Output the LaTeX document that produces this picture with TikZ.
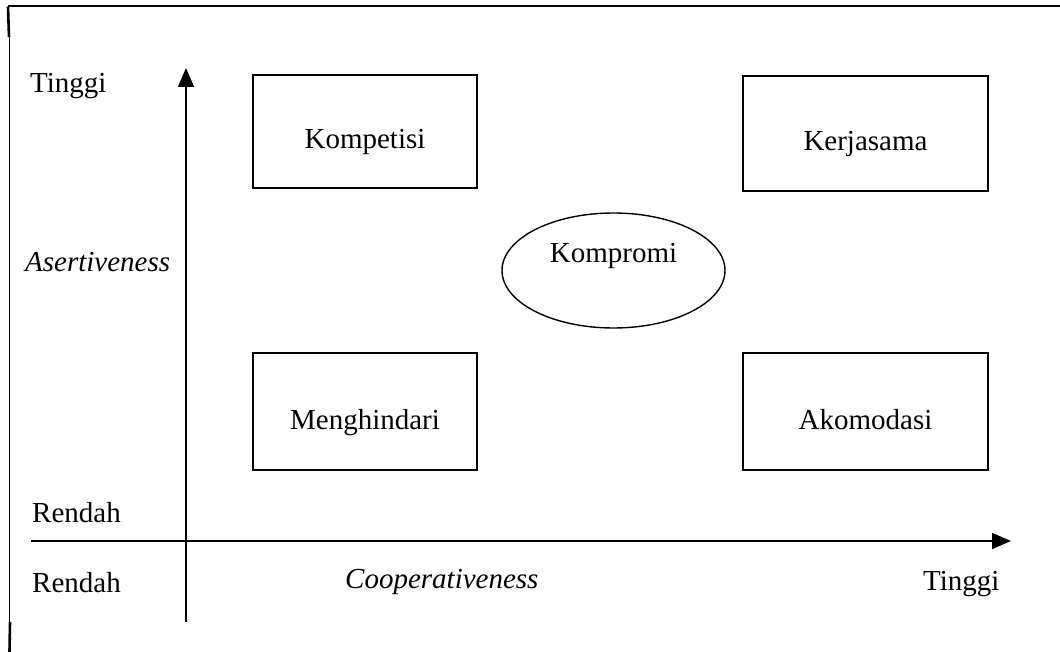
\documentclass[tikz,border=0pt]{standalone}
\usepackage{fontspec}
\setmainfont{Liberation Serif}
\usetikzlibrary{arrows.meta,shapes.geometric}

\tikzset{
  x=1pt, y=-1pt,
  every node/.style={font=\fontsize{29}{34}\selectfont},
  stylebox/.style={draw, line width=1.8pt, inner sep=0pt,
    text height=35pt, text depth=0pt},
  midoval/.style={draw, ellipse, line width=1.4pt, inner sep=0pt,
    minimum width=223pt, minimum height=115pt,
    text height=0pt, text depth=15pt},
  axis/.style={line width=1.8pt, -{Triangle[length=19pt,width=16pt]}},
  axislabel/.style={anchor=base west, inner sep=0pt},
  frameline/.style={line width=2pt},
}

\begin{document}
\begin{tikzpicture}
  \useasboundingbox (0,0) rectangle (1060,652);

  % outer frame (top and left edges)
  \coordinate (frame-tl) at (8,6.5);
  \coordinate (frame-tr) at (1060,6.5);
  \coordinate (frame-l1) at (9,37);
  \coordinate (frame-l2) at (9,622);
  \coordinate (frame-bl) at (9.5,652);
  \draw[frameline] (frame-tl) -- (frame-tr);
  \draw[line width=2.6pt] (frame-tl) -- (frame-l1);
  \draw[line width=1pt] (frame-l1) -- (frame-l2);
  \draw[line width=2.6pt] ([xshift=1pt]frame-l2) -- (frame-bl);

  % axes
  \coordinate (y-start) at (186,622);
  \coordinate (y-end) at (186,68);
  \coordinate (x-start) at (31,541);
  \coordinate (x-end) at (1011,541);
  \draw[axis] (y-start) -- (y-end);
  \draw[axis] (x-start) -- (x-end);

  % conflict styles
  \node[stylebox, minimum width=224pt, minimum height=113pt]
    (kompetisi) at (365,131.5) {Kompetisi};
  \node[stylebox, minimum width=245pt, minimum height=115pt]
    (kerjasama) at (865.5,133.5) {Kerjasama};
  \node[stylebox, minimum width=224pt, minimum height=117pt]
    (menghindari) at (365,411.5) {Menghindari};
  \node[stylebox, minimum width=245pt, minimum height=117pt]
    (akomodasi) at (865.5,411.5) {Akomodasi};
  \node[midoval] (kompromi) at (613.5,270.5) {Kompromi};

  % axis labels
  \node[axislabel] (y-high) at (30,93) {Tinggi};
  \node[axislabel] (y-name) at (25,272) {\itshape Asertiveness};
  \node[axislabel] (y-low) at (32,522) {Rendah};
  \node[axislabel] (x-low) at (32,592) {Rendah};
  \node[axislabel] (x-name) at (345,588) {\itshape Cooperativeness};
  \node[axislabel] (x-high) at (923,590) {Tinggi};
\end{tikzpicture}
\end{document}
